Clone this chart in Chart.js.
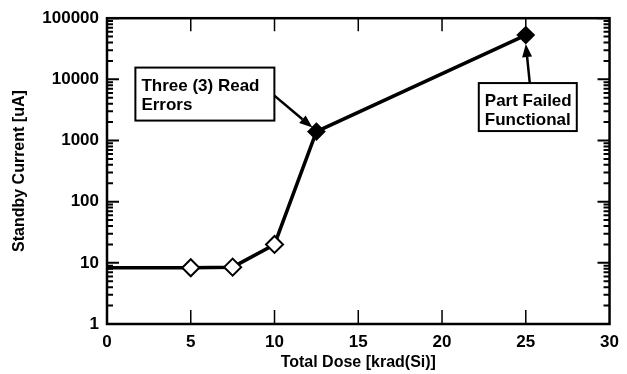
<!DOCTYPE html>
<html>
<head>
<meta charset="utf-8">
<script src="https://cdn.jsdelivr.net/npm/chart.js@4.4.0/dist/chart.umd.min.js"></script>
<style>
  body { margin: 0; background: #fff; }
  canvas { display: block; }
</style>
</head>
<body>
<canvas id="doseChart" width="627" height="374"></canvas>
<script>
// data
const doses = [0, 5, 7.5, 10, 12.5, 25];
const currents = [8.3, 8.3, 8.5, 20, 1400, 53000];
const filledPoints = [false, false, false, false, true, true];
const xTickValues = [0, 5, 10, 15, 20, 25, 30];
const yTickValues = [1, 10, 100, 1000, 10000, 100000];

const FONT = "'Liberation Sans', Arial, sans-serif";

// callout boxes, anchored to a data point
const callouts = [
    { lines: ['Three (3) Read', 'Errors'], point: 4, dx: -181, dy: -64, w: 139, h: 53, fromX: -42, fromY: -36, tipX: -4, tipY: -4 },
    { lines: ['Part Failed', 'Functional'], point: 5, dx: -47, dy: 48, w: 98, h: 48, fromX: 4, fromY: 48, tipX: 0, tipY: 9 }
];

function drawArrow(ctx, x1, y1, x2, y2) {
    const ang = Math.atan2(y2 - y1, x2 - x1);
    const head = 13, half = 5;
    const bx = x2 - head * Math.cos(ang), by = y2 - head * Math.sin(ang);
    ctx.beginPath();
    ctx.moveTo(x1, y1);
    ctx.lineTo(bx, by);
    ctx.lineWidth = 2.5;
    ctx.stroke();
    ctx.beginPath();
    ctx.moveTo(x2, y2);
    ctx.lineTo(bx + half * Math.sin(ang), by - half * Math.cos(ang));
    ctx.lineTo(bx - half * Math.sin(ang), by + half * Math.cos(ang));
    ctx.closePath();
    ctx.fill();
}

const framePlugin = {
    id: 'framePlugin',
    afterDatasetsDraw(chart) {
        const ctx = chart.ctx;
        const { left, right, top, bottom } = chart.chartArea;
        const xs = chart.scales.x, ys = chart.scales.y;
        ctx.save();
        ctx.strokeStyle = '#000';
        ctx.fillStyle = '#000';

        // frame
        ctx.lineWidth = 2.5;
        ctx.strokeRect(left, top, right - left, bottom - top);

        // y ticks, both sides, pointing in
        ctx.lineWidth = 2;
        yTickValues.forEach((v, i) => {
            const py = ys.getPixelForValue(v);
            ctx.beginPath();
            ctx.moveTo(left, py); ctx.lineTo(left + 12, py);
            ctx.moveTo(right, py); ctx.lineTo(right - 12, py);
            ctx.stroke();
            if (i < yTickValues.length - 1) {
                for (let m = 2; m <= 9; m++) {
                    const my = ys.getPixelForValue(v * m);
                    ctx.beginPath();
                    ctx.moveTo(left, my); ctx.lineTo(left + 6, my);
                    ctx.moveTo(right, my); ctx.lineTo(right - 6, my);
                    ctx.stroke();
                }
            }
        });

        // x ticks, top and bottom
        ctx.lineWidth = 1.5;
        xTickValues.slice(1, -1).forEach(v => {
            const px = xs.getPixelForValue(v);
            ctx.beginPath();
            ctx.moveTo(px, bottom); ctx.lineTo(px, bottom - 14);
            ctx.moveTo(px, top); ctx.lineTo(px, top + 13);
            ctx.stroke();
        });

        // callouts
        ctx.font = 'bold 17px ' + FONT;
        ctx.textBaseline = 'alphabetic';
        callouts.forEach(c => {
            const px = xs.getPixelForValue(doses[c.point]);
            const py = ys.getPixelForValue(currents[c.point]);
            const bx = px + c.dx, by = py + c.dy;
            ctx.fillStyle = '#fff';
            ctx.fillRect(bx, by, c.w, c.h);
            ctx.lineWidth = 2;
            ctx.strokeRect(bx, by, c.w, c.h);
            ctx.fillStyle = '#000';
            c.lines.forEach((t, i) => ctx.fillText(t, bx + 6, by + 23 + i * 19));
            drawArrow(ctx, px + c.fromX, py + c.fromY, px + c.tipX, py + c.tipY);
        });
        ctx.restore();
    }
};

new Chart(document.getElementById('doseChart'), {
    type: 'line',
    data: {
        datasets: [{
            data: doses.map((d, i) => ({ x: d, y: currents[i] })),
            borderColor: '#000',
            borderWidth: 3.5,
            tension: 0,
            pointStyle: 'rectRot',
            pointRadius: doses.map((d, i) => i === 0 ? 0 : (filledPoints[i] ? 8 : 8.5)),
            pointBackgroundColor: filledPoints.map(f => f ? '#000' : '#fff'),
            pointBorderColor: '#000',
            pointBorderWidth: 2,
            clip: false
        }]
    },
    options: {
        responsive: false,
        animation: false,
        devicePixelRatio: 1,
        layout: { padding: { top: 14, right: 15, left: 0, bottom: 0 } },
        plugins: { legend: { display: false }, tooltip: { enabled: false } },
        scales: {
            x: {
                type: 'linear',
                min: 0, max: 30,
                afterFit: s => { s.height = 50; },
                afterBuildTicks: s => { s.ticks = xTickValues.map(v => ({ value: v })); },
                grid: { display: false, tickLength: 0 },
                border: { display: false },
                ticks: { color: '#000', padding: 8, font: { family: FONT, size: 17, weight: 'bold' } },
                title: {
                    display: true,
                    text: 'Total Dose [krad(Si)]',
                    color: '#000',
                    padding: { top: 0, bottom: 2 },
                    font: { family: FONT, size: 16, weight: 'bold' }
                }
            },
            y: {
                type: 'logarithmic',
                min: 1, max: 100000,
                afterFit: s => { s.width = 107; },
                afterBuildTicks: s => { s.ticks = yTickValues.map(v => ({ value: v })); },
                grid: { display: false, tickLength: 0 },
                border: { display: false },
                ticks: {
                    color: '#000', padding: 8,
                    font: { family: FONT, size: 17, weight: 'bold' },
                    callback: v => String(v)
                },
                title: {
                    display: true,
                    text: 'Standby Current [uA]',
                    color: '#000',
                    padding: { top: 10, bottom: 0 },
                    font: { family: FONT, size: 16, weight: 'bold' }
                }
            }
        }
    },
    plugins: [framePlugin]
});
</script>
</body>
</html>
